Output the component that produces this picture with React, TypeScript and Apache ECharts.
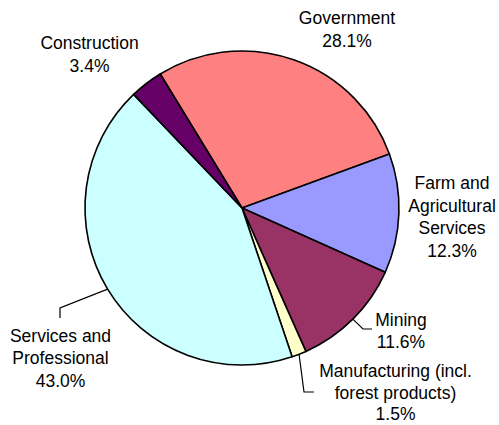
import React, { useEffect, useRef } from "react";
import * as echarts from "echarts";

const categories = [
  "Government",
  "Farm and\nAgricultural\nServices",
  "Mining",
  "Manufacturing (incl.\nforest products)",
  "Services and\nProfessional",
  "Construction",
];
const shares = [28.1, 12.3, 11.6, 1.5, 43.0, 3.4];
const colors = ["#FF8080", "#9999FF", "#993366", "#FFFFCC", "#CCFFFF", "#660066"];
const withLeader = [false, false, true, true, true, false];

// label placement (layout, not data)
const labelPos: { x: number; y: number; lh: number; elbow?: number[][] }[] = [
  { x: 347, y: 29.5, lh: 22.5 },
  { x: 452, y: 217, lh: 22.5 },
  { x: 401, y: 331, lh: 22.5, elbow: [[363, 329], [372, 329]] },
  { x: 395.5, y: 392.5, lh: 21.5, elbow: [[304, 392], [314, 392]] },
  { x: 60.5, y: 358, lh: 22.5, elbow: [[60, 308], [60, 318]] },
  { x: 89.5, y: 54.5, lh: 22.5 },
];

export default function App() {
  const ref = useRef<HTMLDivElement>(null);
  useEffect(() => {
    if (!ref.current) return;
    const chart = echarts.init(ref.current, null, { renderer: "svg" });
    const cx = 242;
    const cy = 208;
    chart.setOption({
      animation: false,
      backgroundColor: "#ffffff",
      series: [
        {
          type: "pie",
          center: [cx, cy],
          radius: 157,
          startAngle: 121.4,
          clockwise: true,
          avoidLabelOverlap: false,
          itemStyle: { borderColor: "#000000", borderWidth: 1.6 },
          label: {
            show: true,
            position: "outside",
            fontFamily: "Liberation Sans, Arial, sans-serif",
            fontSize: 17.5,
            lineHeight: 22.5,
            color: "#000000",
            align: "center",
            formatter: (p: any) => `${p.name}\n${Number(p.value).toFixed(1)}%`,
          },
          labelLine: {
            show: true,
            length: 10,
            length2: 10,
            lineStyle: { color: "#000000", width: 1.2 },
          },
          labelLayout: (params: any) => {
            const lp = labelPos[params.dataIndex];
            const out: any = {
              x: lp.x,
              y: lp.y,
              align: "center",
              verticalAlign: "middle",
            };
            if (lp.elbow && params.labelLinePoints) {
              const s = params.labelLinePoints[0];
              out.labelLinePoints = [[s[0], s[1]], ...lp.elbow];
            }
            return out;
          },
          data: categories.map((name, i) => ({
            name,
            value: shares[i],
            itemStyle: { color: colors[i] },
            label: { lineHeight: labelPos[i].lh },
            labelLine: { show: withLeader[i] },
          })),
        },
      ],
    });
    return () => chart.dispose();
  }, []);
  return (
    <div
      ref={ref}
      style={{ position: "fixed", left: 0, top: 0, width: 499, height: 425 }}
    />
  );
}
